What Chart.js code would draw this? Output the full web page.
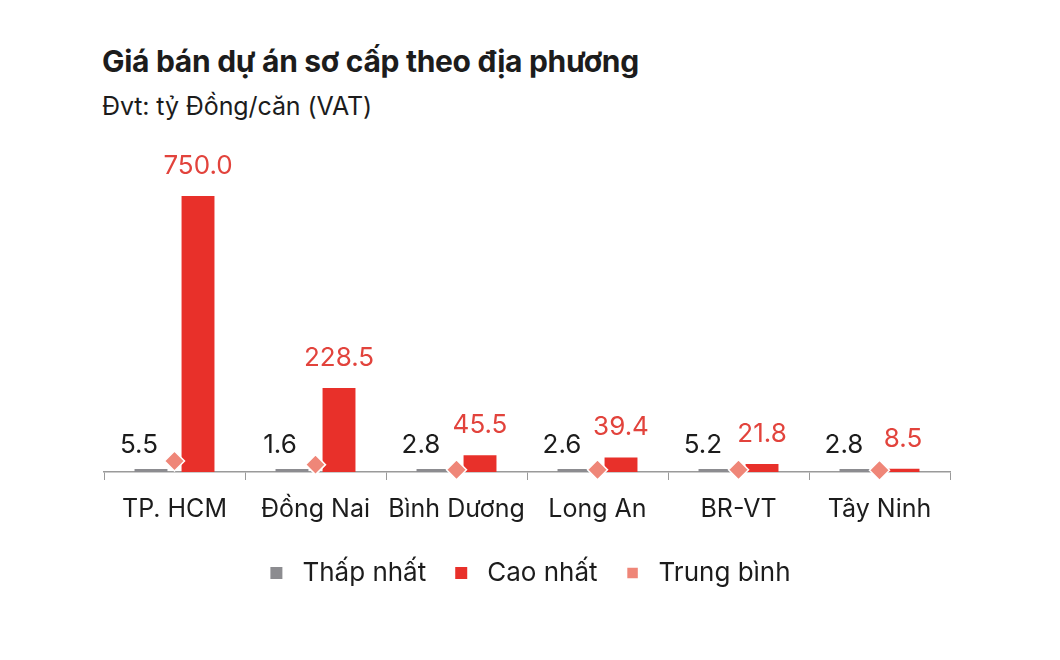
<!DOCTYPE html>
<html>
<head>
<meta charset="utf-8">
<script src="https://cdn.jsdelivr.net/npm/chart.js@4"></script>
<style>
  html, body { margin: 0; padding: 0; background: #fff; }
  body { width: 1060px; height: 660px; position: relative; overflow: hidden; font-family: Inter, "Noto Sans", sans-serif; color: #1c1c1c; }
  .title { position: absolute; left: 102px; top: 43px; font-size: 30px; font-weight: 700; letter-spacing: -0.3px; }
  .sub { position: absolute; left: 102px; top: 91px; font-size: 25px; font-weight: 400; letter-spacing: -0.1px; }
  #wrap { position: absolute; left: 0; top: 0; width: 1060px; height: 660px; }
</style>
</head>
<body>
<div class="title">Giá bán dự án sơ cấp theo địa phương</div>
<div class="sub">Đvt: tỷ Đồng/căn (VAT)</div>
<div id="wrap"><canvas id="chart"></canvas></div>
<script>
  // dữ liệu
  const regions = ["TP. HCM", "Đồng Nai", "Bình Dương", "Long An", "BR-VT", "Tây Ninh"];
  const lowest = [5.5, 1.6, 2.8, 2.6, 5.2, 2.8];
  const highest = [750.0, 228.5, 45.5, 39.4, 21.8, 8.5];
  const average = [30, 20, 6, 6, 6, 5];

  const GRAY = "#8c8c90";
  const RED = "#e8302a";
  const SALMON = "#ef8678";
  const FONT = "Inter, 'Noto Sans', sans-serif";

  // nhãn giá trị trên cột
  const valueLabels = {
    id: "valueLabels",
    afterDatasetsDraw(chart) {
      const ctx = chart.ctx;
      ctx.save();
      ctx.font = "400 26px " + FONT;
      ctx.textAlign = "center";
      ctx.textBaseline = "bottom";
      [0, 1].forEach(di => {
        const meta = chart.getDatasetMeta(di);
        meta.data.forEach((bar, i) => {
          const v = chart.data.datasets[di].data[i];
          if (di === 0) {
            ctx.fillStyle = "#1c1c1c";
            ctx.fillText(v.toFixed(1), bar.x - 12, bar.y - 11);
          } else {
            ctx.fillStyle = "#e2433c";
            ctx.fillText(v.toFixed(1), bar.x, bar.y - 17);
          }
        });
      });
      ctx.restore();
    }
  };

  new Chart(document.getElementById("chart"), {
    type: "bar",
    data: {
      labels: regions,
      datasets: [
        {
          label: "Thấp nhất",
          data: lowest,
          backgroundColor: GRAY,
          order: 1,
          categoryPercentage: 0.667,
          barPercentage: 0.7,
          minBarLength: 3,
        },
        {
          label: "Cao nhất",
          data: highest,
          backgroundColor: RED,
          order: 1,
          categoryPercentage: 0.667,
          barPercentage: 0.7,
        },
        {
          type: "line",
          label: "Trung bình",
          data: average,
          showLine: false,
          pointStyle: "rectRot",
          pointRadius: 10,
          pointHoverRadius: 10,
          pointBackgroundColor: SALMON,
          pointBorderColor: "#ffffff",
          pointBorderWidth: 1.5,
          backgroundColor: SALMON,
          borderColor: SALMON,
          order: 0,
          clip: false,
        },
      ],
    },
    options: {
      responsive: true,
      maintainAspectRatio: false,
      animation: false,
      layout: { padding: { left: 104, right: 110, top: 150, bottom: 64 } },
      scales: {
        x: {
          grid: { drawOnChartArea: false, drawTicks: true, tickLength: 8, color: "#9a9a9a" },
          border: { display: true, color: "#9a9a9a", width: 1.5 },
          ticks: {
            color: "#1c1c1c",
            font: { family: FONT, size: 25 },
            padding: 14,
            maxRotation: 0,
            minRotation: 0,
            autoSkip: false,
          },
        },
        y: { display: false, min: 0, max: 875 },
      },
      plugins: {
        legend: {
          position: "bottom",
          labels: {
            usePointStyle: true,
            pointStyle: "rect",
            boxHeight: 12,
            padding: 22,
            color: "#1c1c1c",
            font: { family: FONT, size: 26 },
            sort: (a, b) => a.datasetIndex - b.datasetIndex,
          },
        },
        tooltip: { enabled: false },
      },
    },
    plugins: [valueLabels],
  });
</script>
</body>
</html>
